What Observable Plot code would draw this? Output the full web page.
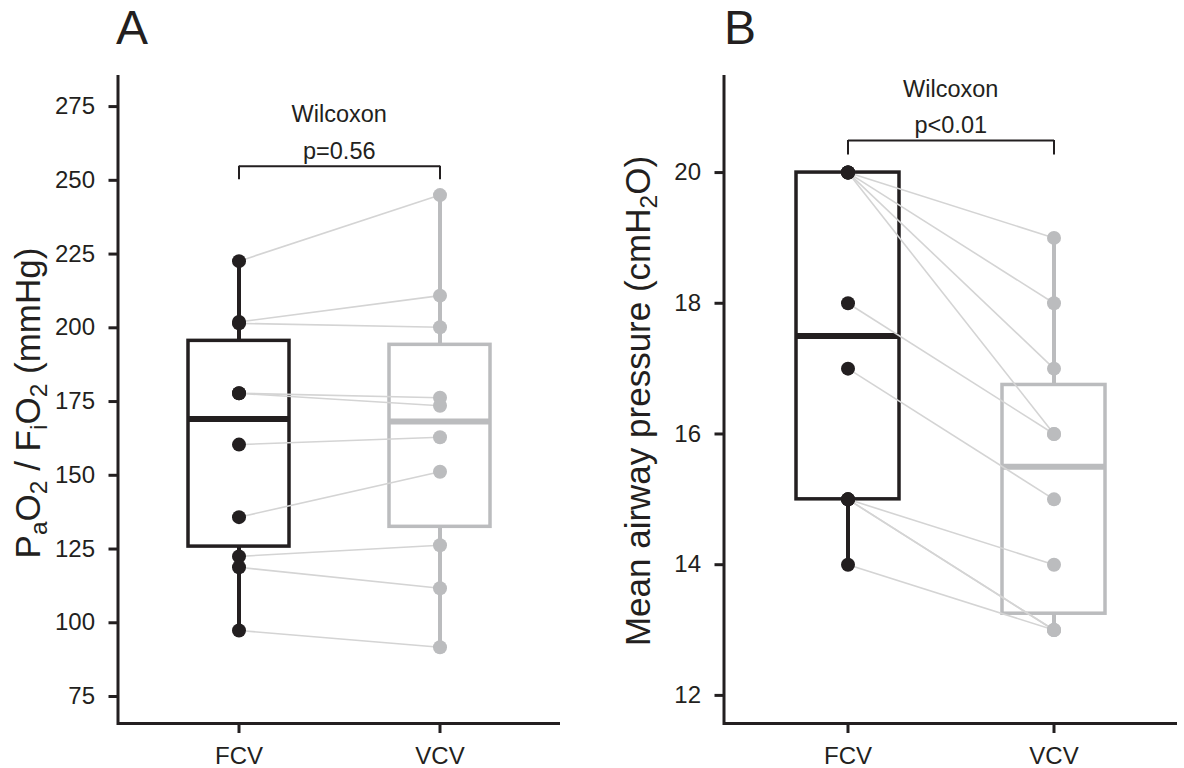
<!DOCTYPE html>
<html>
<head>
<meta charset="utf-8">
<script src="https://cdn.jsdelivr.net/npm/d3@7"></script>
<script src="https://cdn.jsdelivr.net/npm/@observablehq/plot@0.6"></script>
<style>
  body { margin: 0; background: #fff; font-family: "Liberation Sans", Arial, sans-serif; }
  #wrap { position: relative; width: 1184px; height: 768px; overflow: hidden; background: #fff; }
  .panel { position: absolute; top: 0; }
  .panel g[aria-label$="tick label"], .panel g[aria-label$="tick label"] text { font-size: 24px !important; }
  .tag { position: absolute; top: 4px; font-size: 48px; line-height: 1; color: #231f20; }
  .ylab { position: absolute; width: 640px; height: 40px; line-height: 40px; font-size: 35px;
          text-align: center; transform: rotate(-90deg); color: #231f20; white-space: nowrap; }
  .ylab sub { font-size: 0.7em; vertical-align: -0.28em; line-height: 0; }
</style>
</head>
<body>
<div id="wrap"></div>
<script>
// ---- data ----
const groups = ["FCV", "VCV"];

// Panel A: PaO2/FiO2 (mmHg), paired by patient
const pfFCV = [222.6, 202, 201.5, 177.8, 177.8, 160.4, 135.8, 122.5, 118.8, 97.4];
const pfVCV = [245, 210.9, 200.2, 176.3, 173.6, 162.9, 151.2, 126.3, 111.7, 91.7];
const ticksA = [75, 100, 125, 150, 175, 200, 225, 250, 275];

// Panel B: mean airway pressure (cmH2O), paired by patient
const mapFCV = [20, 20, 20, 20, 18, 17, 15, 15, 15, 14];
const mapVCV = [19, 18, 17, 16, 16, 15, 14, 13, 13, 13];
const ticksB = [12, 14, 16, 18, 20];

const testName = "Wilcoxon";
const pLabels = ["p=0.56", "p<0.01"];
const panelTags = ["A", "B"];

// ---- styling ----
const dark = "#231f20";
const grey = "#bbbcbe";
const pairLine = "#d4d4d4";
const font = "'Liberation Sans', Arial, sans-serif";

function boxStats(vals) {
  const s = vals.slice().sort(d3.ascending);
  const q1 = d3.quantile(s, 0.25), med = d3.quantile(s, 0.5), q3 = d3.quantile(s, 0.75);
  const iqr = q3 - q1;
  const lo = d3.min(s.filter(v => v >= q1 - 1.5 * iqr));
  const hi = d3.max(s.filter(v => v <= q3 + 1.5 * iqr));
  return {q1, med, q3, lo, hi};
}

function panel({fcv, vcv, width, marginLeft, marginRight, domain, ticks, bracketY, tipY, testY, pY, pLabel}) {
  const long = [...fcv.map(v => ({g: "FCV", v})), ...vcv.map(v => ({g: "VCV", v}))];
  const pairs = fcv.map((v, i) => ({a: v, b: vcv[i]}));
  const stats = groups.map(g => ({g, ...boxStats(long.filter(d => d.g === g).map(d => d.v))}));
  return Plot.plot({
    width, height: 768,
    marginLeft, marginRight, marginTop: 76, marginBottom: 45,
    style: {fontFamily: font, fontSize: "24px", color: dark, background: "transparent", overflow: "visible"},
    x: {type: "band", domain: groups, paddingInner: 0.5, paddingOuter: 0.35, axis: null},
    y: {domain, axis: null},
    color: {domain: groups, range: [dark, grey]},
    marks: [
      Plot.ruleX(stats, {x: "g", y1: "lo", y2: "q1", stroke: "g", strokeWidth: 4}),
      Plot.ruleX(stats, {x: "g", y1: "q3", y2: "hi", stroke: "g", strokeWidth: 4}),
      Plot.barY(stats, {x: "g", y1: "q1", y2: "q3", fill: "white", stroke: "g", strokeWidth: 3.5}),
      Plot.tickY(stats, {x: "g", y: "med", stroke: "g", strokeWidth: 6}),
      Plot.link(pairs, {x1: () => "FCV", x2: () => "VCV", y1: "a", y2: "b", stroke: pairLine, strokeWidth: 1.6}),
      Plot.dot(long, {x: "g", y: "v", fill: "g", r: 7}),
      Plot.link([bracketY], {x1: () => "FCV", x2: () => "VCV", y1: d => d, y2: d => d, stroke: dark, strokeWidth: 2}),
      Plot.ruleX(groups, {x: d => d, y1: () => tipY, y2: () => bracketY, stroke: dark, strokeWidth: 2}),
      Plot.text([testName], {y: () => testY, text: d => d, frameAnchor: "middle", lineAnchor: "bottom", fontSize: 23.5, fill: dark}),
      Plot.text([pLabel], {y: () => pY, text: d => d, frameAnchor: "middle", lineAnchor: "bottom", fontSize: 23.5, fill: dark}),
      Plot.axisY({ticks, tickSize: 9, tickPadding: 14, strokeWidth: 3, label: null, fontSize: 24, color: dark}),
      Plot.axisX({tickSize: 10, tickPadding: 13, strokeWidth: 3, label: null, fontSize: 24, color: dark}),
      Plot.ruleY([domain[0]], {stroke: dark, strokeWidth: 3}),
      Plot.frame({anchor: "left", stroke: dark, strokeWidth: 3})
    ]
  });
}

const wrap = document.getElementById("wrap");

const pa = panel({
  fcv: pfFCV, vcv: pfVCV, width: 600, marginLeft: 117.5, marginRight: 40,
  domain: [65.85, 285.2], ticks: ticksA,
  bracketY: 254.8, tipY: 250.2, testY: 269.7, pY: 257.3, pLabel: pLabels[0]
});
pa.classList.add("panel"); pa.style.left = "0px";
wrap.appendChild(pa);

const pb = panel({
  fcv: mapFCV, vcv: mapVCV, width: 584, marginLeft: 123.5, marginRight: 7,
  domain: [11.57, 21.47], ticks: ticksB,
  bracketY: 20.49, tipY: 20.27, testY: 21.16, pY: 20.61, pLabel: pLabels[1]
});
pb.classList.add("panel"); pb.style.left = "600px";
wrap.appendChild(pb);

function addDiv(cls, html, left, top) {
  const d = document.createElement("div");
  d.className = cls; d.innerHTML = html;
  d.style.left = left + "px"; d.style.top = top + "px";
  wrap.appendChild(d);
}
addDiv("tag", panelTags[0], 116, 4);
addDiv("tag", panelTags[1], 724, 4);
// rotated y-axis titles (centre x, centre y) -> box 640x40
addDiv("ylab", "P<sub>a</sub>O<sub>2</sub> / F<sub>i</sub>O<sub>2</sub> (mmHg)", 28 - 320, 403 - 20);
addDiv("ylab", "Mean airway pressure (cmH<sub>2</sub>O)", 638 - 320, 401 - 20);
</script>
</body>
</html>
